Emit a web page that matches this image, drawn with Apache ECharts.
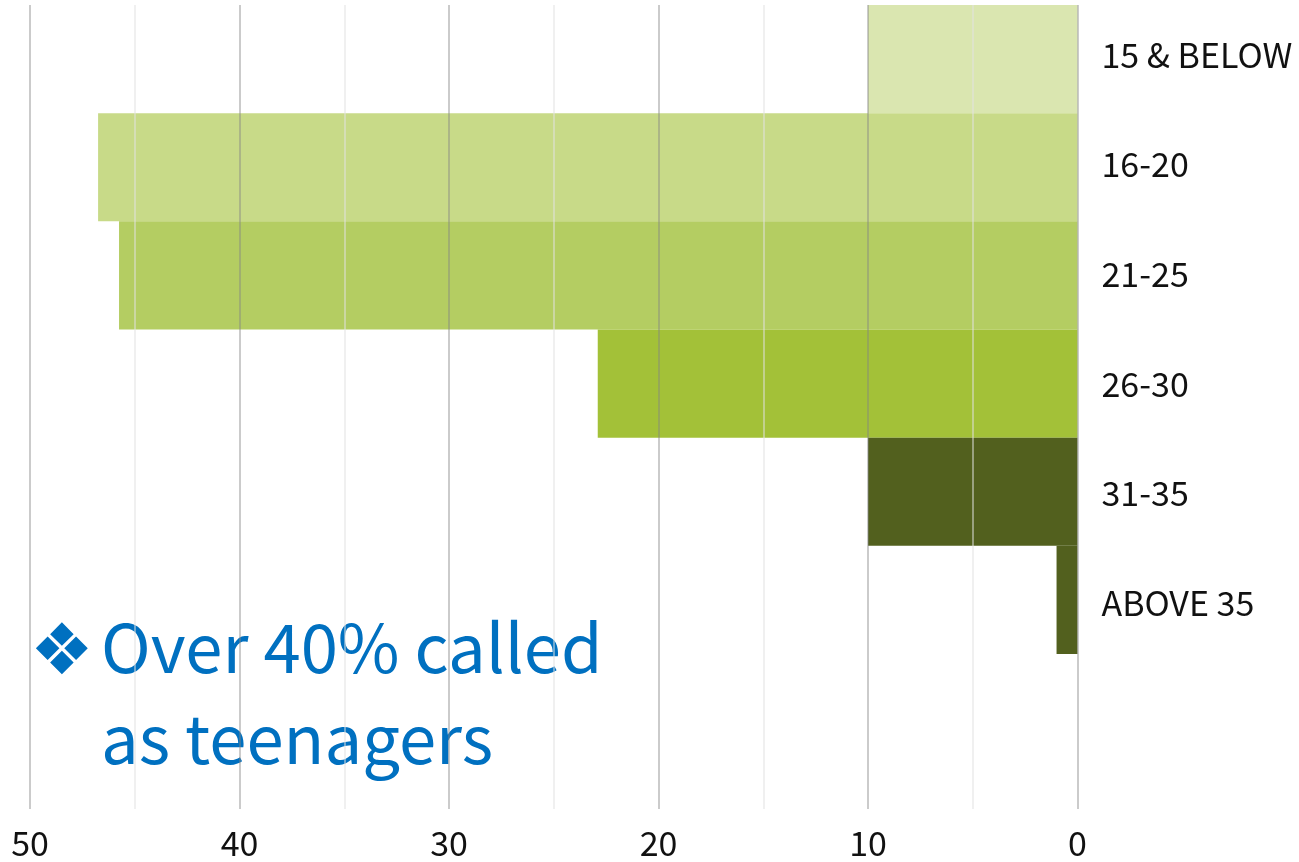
<!DOCTYPE html>
<html><head><meta charset="utf-8">
<style>html,body{margin:0;padding:0;background:#fff}#c{width:1299px;height:862px}</style>
<script src="https://cdn.jsdelivr.net/npm/echarts@6/dist/echarts.min.js"></script>
</head><body><div id="c"></div>
<script>
const categories = ['15 & BELOW','16-20','21-25','26-30','31-35','ABOVE 35'];
const values = [10, 46.75, 45.75, 22.9, 10, 1];
const barColors = ['#dae6b0','#c8da88','#b4cd62','#a3c138','#52601e','#52601e'];
const axisMax = 50;
const majorStep = 10;
const chart = echarts.init(document.getElementById('c'), null, {renderer:'canvas'});
const labelFont = '"Noto Sans CJK SC","Noto Sans",sans-serif';
const noteFont = '"Noto Sans CJK SC","Noto Sans",sans-serif';
const hiddenX = i => ({gridIndex:i,type:'value',inverse:true,min:0,max:axisMax,show:false});
chart.setOption({
  animation:false,
  backgroundColor:'#fff',
  grid:[
    {left:30,right:221.5,top:5,height:804},
    {left:30,right:221.5,top:5,height:649},
    {left:30,right:221.5,top:0,height:658}
  ],
  xAxis:[
    {gridIndex:0,type:'value',inverse:true,min:0,max:axisMax,interval:majorStep,z:5,
     axisLine:{show:false},axisTick:{show:false},
     axisLabel:{color:'#111',fontSize:34,fontFamily:labelFont,margin:17},
     splitLine:{show:true,lineStyle:{color:'rgba(130,130,130,0.42)',width:2}},
     minorTick:{show:false,splitNumber:2},
     minorSplitLine:{show:true,lineStyle:{color:'rgba(225,225,225,0.5)',width:2}}},
    hiddenX(1),
    hiddenX(2)
  ],
  yAxis:[
    {gridIndex:0,type:'value',min:0,max:1,show:false},
    {gridIndex:1,type:'category',inverse:true,data:categories,show:false},
    {gridIndex:2,type:'category',inverse:true,position:'right',data:categories,
     axisLine:{show:false},axisTick:{show:false},
     axisLabel:{color:'#111',fontSize:34,fontFamily:labelFont,align:'left',margin:24}}
  ],
  series:[{type:'bar',xAxisIndex:1,yAxisIndex:1,barWidth:'100%',
    data:values.map((v,i)=>({value:v,itemStyle:{color:barColors[i]}}))}],
  graphic:[
    {type:'text',left:30,top:620,style:{text:'❖',font:'71px "DejaVu Sans"',fill:'#0070c0'}},
    {type:'text',left:101,top:602,style:{text:'Over 40% called\nas teenagers',font:'67px '+noteFont,lineHeight:91,fill:'#0070c0'}}
  ]
});
</script></body></html>
